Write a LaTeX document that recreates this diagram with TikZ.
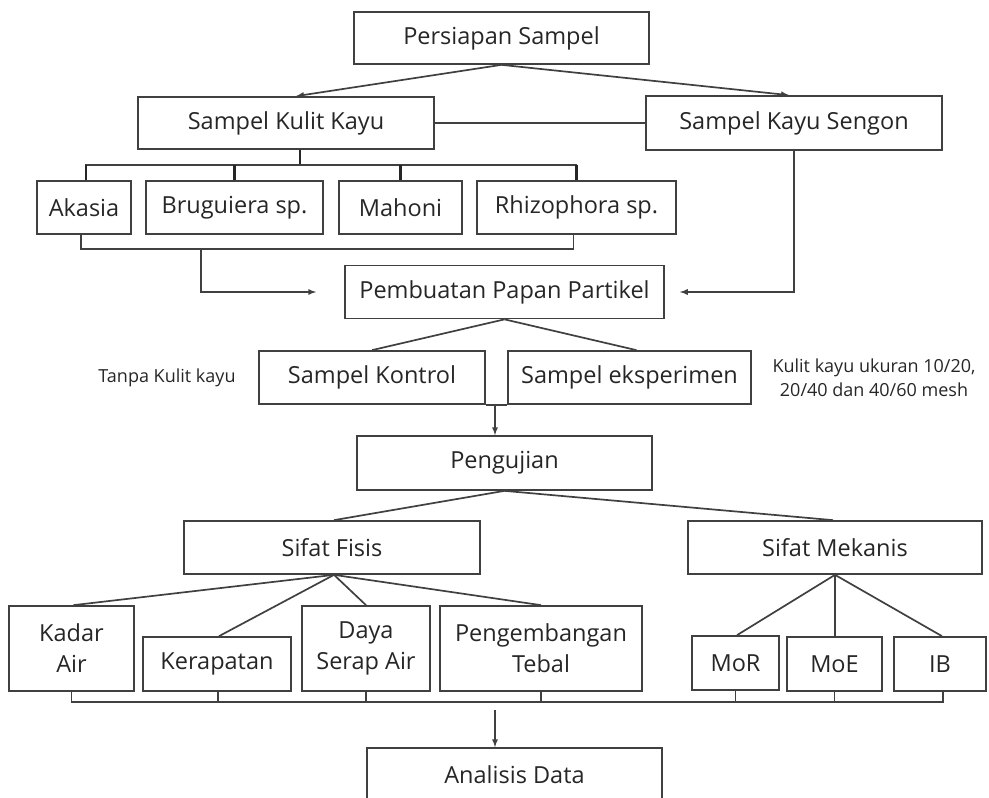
\documentclass[tikz,border=0pt]{standalone}
\usepackage{fontspec}
\setmainfont{Open Sans}
\usepackage{tikz}
\usetikzlibrary{arrows,calc,positioning}
\tikzset{%
	block/.style    = {draw, rectangle, line width=1.7pt, draw=black!75, text=black!85, align=center, inner sep=0pt, font=\fontsize{23.5}{31}\selectfont}, % Box
	note/.style     = {align=center, text=black!85, inner sep=0pt, font=\fontsize{18}{24}\selectfont}, % Side text
	link/.style     = {line width=1.7pt, draw=black!75}, % Connector
	tick/.style     = {line width=2.6pt, draw=black!85}, % Bracket tick
	arrow/.style    = {link, -latex, >=latex},
}

\begin{document}
\begin{tikzpicture}[x=1pt,y=-1pt]
	\clip (0,0) rectangle (989,798);
	% boxes
	\node [block, minimum width=295, minimum height=52] (persiapan) at (501.5,38) {Persiapan Sampel};
	\node [block, minimum width=296, minimum height=52] (kulit) at (286,123) {Sampel Kulit Kayu};
	\node [block, minimum width=296, minimum height=54] (sengon) at (794,123) {Sampel Kayu Sengon};
	\node [block, minimum width=94, minimum height=53] (akasia) at (84,207.5) {Akasia};
	\node [block, minimum width=177, minimum height=53] (bruguiera) at (234.5,207.5) {Bruguiera sp.};
	\node [block, minimum width=123, minimum height=53] (mahoni) at (400.5,207.5) {Mahoni};
	\node [block, minimum width=199, minimum height=53] (rhizophora) at (576.5,207.5) {Rhizophora sp.};
	\node [block, minimum width=319, minimum height=53] (pembuatan) at (504.5,292) {Pembuatan Papan Partikel};
	\node [block, minimum width=226, minimum height=53] (kontrol) at (372,377.5) {Sampel Kontrol};
	\node [block, minimum width=243, minimum height=53] (eksperimen) at (629.5,377.5) {Sampel eksperimen};
	\node [note] (tanpa) at (167,378) {Tanpa Kulit kayu};
	\node [note] (ukuran) at (874,378) {Kulit kayu ukuran 10/20,\\20/40 dan 40/60 mesh};
	\node [block, minimum width=295, minimum height=54] (pengujian) at (504.5,463) {Pengujian};
	\node [block, minimum width=296, minimum height=53] (fisis) at (332,547.5) {Sifat Fisis};
	\node [block, minimum width=294, minimum height=53] (mekanis) at (835,547.5) {Sifat Mekanis};
	\node [block, minimum width=125, minimum height=85] (kadar) at (71.5,648.5) {Kadar\\Air};
	\node [block, minimum width=148, minimum height=54] (kerapatan) at (217,664) {Kerapatan};
	\node [block, minimum width=128, minimum height=85] (daya) at (366,648.5) {Daya\\Serap Air};
	\node [block, minimum width=202, minimum height=85] (pengembangan) at (541,648.5) {Pengembangan\\Tebal};
	\node [block, minimum width=87, minimum height=54] (mor) at (735.5,663) {MoR};
	\node [block, minimum width=95, minimum height=54] (moe) at (834.5,664) {MoE};
	\node [block, minimum width=92, minimum height=54] (ib) at (940,664) {IB};
	\node [block, minimum width=295, minimum height=54] (analisis) at (514.5,775) {Analisis Data};
	\coordinate (kulitout) at (201,248);
	\coordinate (tee) at (495,404);
	\coordinate (dataout) at (495,710);
	% connectors
	\draw[arrow] (persiapan.south) -- ([xshift=10]kulit.north);
	\draw[arrow] (persiapan.south) -- ([xshift=-5]sengon.north);
	\draw[link] (kulit.east) -- (sengon.west);
	\draw[tick] ([xshift=14]kulit.south) -- ++(0,15);
	\draw[link] ([xshift=2]akasia.north) -- ++(0,-15) -| (rhizophora.north);
	\draw[tick] ([xshift=2]akasia.north) -- ++(0,-15);
	\draw[tick] (bruguiera.north) -- ++(0,-15);
	\draw[tick] (mahoni.north) -- ++(0,-15);
	\draw[tick] (rhizophora.north) -- ++(0,-15);
	\draw[link] ([xshift=-3]akasia.south) -- ++(0,14) -| ([xshift=-3]rhizophora.south);
	\draw[arrow] (kulitout) |- ([xshift=-28]pembuatan.west);
	\draw[arrow] (sengon.south) |- ([xshift=15]pembuatan.east);
	\draw[link] (pembuatan.south) -- (kontrol.north);
	\draw[link] (pembuatan.south) -- ([xshift=7]eksperimen.north);
	\draw[link] (kontrol.south east) -- (eksperimen.south west);
	\draw[arrow] (tee) -- (tee |- pengujian.north);
	\draw[link] (pengujian.south) -- ([xshift=2]fisis.north);
	\draw[link] (pengujian.south) -- ([xshift=-2]mekanis.north);
	\draw[link] ([xshift=2]fisis.south) -- ([xshift=2]kadar.north);
	\draw[link] ([xshift=2]fisis.south) -- ([xshift=2]kerapatan.north);
	\draw[link] ([xshift=2]fisis.south) -- (daya.north);
	\draw[link] ([xshift=2]fisis.south) -- (pengembangan.north);
	\draw[link] (mekanis.south) -- ([xshift=1.5]mor.north);
	\draw[link] (mekanis.south) -- ([xshift=0.5]moe.north);
	\draw[link] (mekanis.south) -- ([xshift=2]ib.north);
	\draw[link] (kadar.south) -- ++(0,10) -| ([xshift=3]ib.south);
	\draw[link] ([xshift=1]kerapatan.south) -- ++(0,10);
	\draw[link] (daya.south) -- ++(0,10);
	\draw[link] (pengembangan.south) -- ++(0,10);
	\draw[link] (mor.south) -- ++(0,11);
	\draw[link] (moe.south) -- ++(0,10);
	\draw[arrow] (dataout) -- (dataout |- analisis.north);
\end{tikzpicture}
\end{document}
